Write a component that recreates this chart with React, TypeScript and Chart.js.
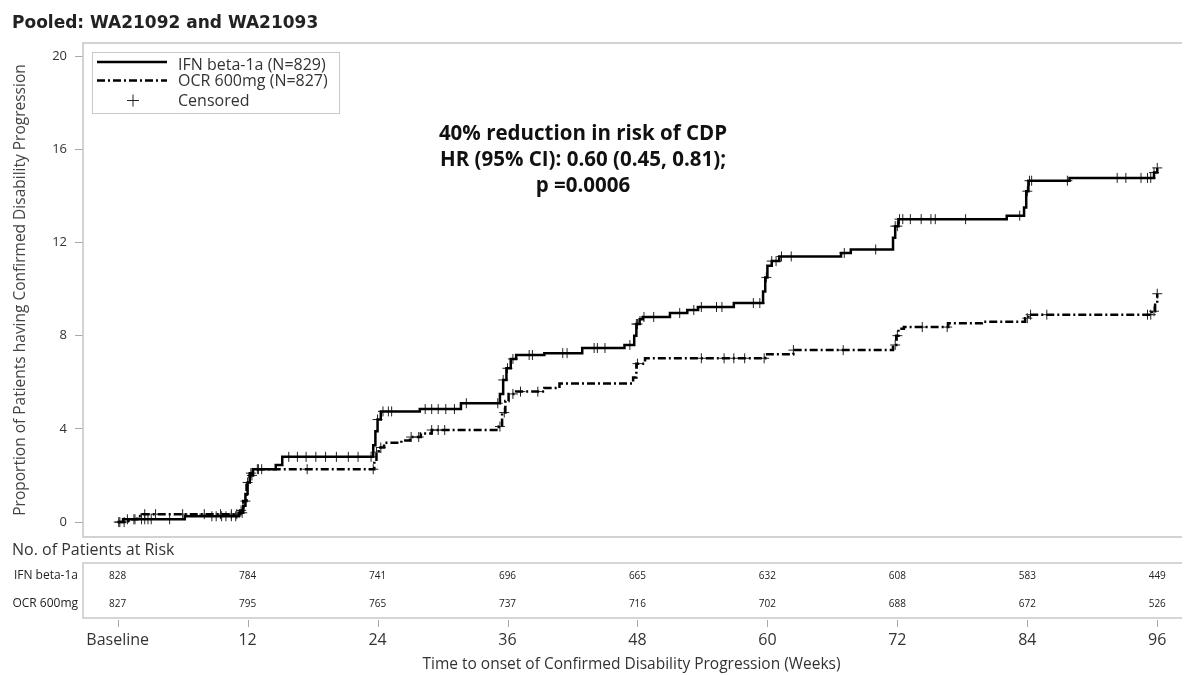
import { useEffect, useRef } from 'react';
import { Chart, registerables } from 'chart.js';

Chart.register(...registerables);

// ---------- Data ----------
const chartTitle = 'Pooled: WA21092 and WA21093';
const yAxisTitle = 'Proportion of Patients having Confirmed Disability Progression';
const xAxisTitle = 'Time to onset of Confirmed Disability Progression (Weeks)';
const annotationLines = ['40% reduction in risk of CDP', 'HR (95% CI): 0.60 (0.45, 0.81);', 'p =0.0006'];
const seriesNames = ['IFN beta-1a (N=829)', 'OCR 600mg (N=827)'];
const censoredLabel = 'Censored';
const riskTitle = 'No. of Patients at Risk';
const riskRowLabels = ['IFN beta-1a', 'OCR 600mg'];

const xTickWeeks = [0, 12, 24, 36, 48, 60, 72, 84, 96];
const xTickLabels = ['Baseline', '12', '24', '36', '48', '60', '72', '84', '96'];
const yTickValues = [0, 4, 8, 12, 16, 20];

const ifnAtRisk = [828, 784, 741, 696, 665, 632, 608, 583, 449];
const ocrAtRisk = [827, 795, 765, 737, 716, 702, 688, 672, 526];

// Step curve (event time in weeks, cumulative % with CDP)
const ifnWeeks = [0, 0.5, 6.2, 11.2, 11.6, 11.8, 12.0, 12.2, 12.5, 14.6, 15.2, 23.6, 23.8, 24.0, 24.3, 27.9, 31.7, 35.3, 35.6, 35.9, 36.3, 36.8, 39.4, 42.9, 46.8, 47.7, 47.9, 48.2, 48.5, 51.0, 52.6, 53.6, 56.9, 59.6, 59.8, 60.0, 60.4, 61.1, 66.8, 67.7, 71.6, 71.8, 72.1, 82.1, 83.7, 83.9, 84.1, 87.9, 95.7, 96.0];
const ifnValues = [0, 0.12, 0.25, 0.4, 0.7, 1.2, 1.7, 2.0, 2.27, 2.45, 2.8, 3.3, 3.9, 4.4, 4.75, 4.85, 5.1, 5.5, 6.1, 6.6, 7.0, 7.17, 7.25, 7.47, 7.6, 8.0, 8.5, 8.7, 8.8, 8.97, 9.1, 9.23, 9.4, 9.9, 10.5, 11.0, 11.2, 11.4, 11.55, 11.7, 12.2, 12.7, 13.0, 13.15, 13.5, 14.2, 14.65, 14.77, 15.0, 15.2];

const ocrWeeks = [0, 1.0, 1.8, 2.3, 11.3, 11.6, 11.9, 12.2, 12.5, 23.7, 23.9, 24.1, 24.6, 26.2, 27.0, 28.0, 29.0, 35.2, 35.5, 35.8, 36.1, 36.8, 39.4, 40.8, 47.6, 47.9, 48.7, 59.8, 62.4, 71.6, 71.9, 72.1, 72.6, 76.7, 79.8, 83.8, 84.1, 95.5, 95.8, 96.0];
const ocrValues = [0, 0.12, 0.25, 0.34, 0.5, 0.9, 1.6, 2.1, 2.27, 2.6, 3.0, 3.2, 3.4, 3.5, 3.65, 3.8, 3.95, 4.1, 4.7, 5.2, 5.5, 5.6, 5.75, 5.95, 6.2, 6.8, 7.03, 7.2, 7.38, 7.6, 8.0, 8.3, 8.37, 8.53, 8.6, 8.75, 8.9, 9.05, 9.4, 9.8];

// Censoring times (weeks)
const ifnCensorWeeks = [0.2, 0.9, 1.6, 2.2, 2.5, 2.8, 3.1, 4.8, 8.7, 9.1, 9.6, 10.0, 10.5, 10.9, 11.5, 12.0, 12.4, 12.9, 13.3, 15.8, 16.6, 17.4, 18.3, 19.2, 20.2, 21.3, 22.2, 23.4, 24.0, 24.5, 25.0, 25.3, 28.4, 29.0, 29.6, 30.3, 31.1, 32.2, 35.1, 35.6, 36.0, 36.5, 38.0, 38.3, 41.1, 41.5, 44.0, 44.3, 45.0, 47.3, 47.9, 48.0, 48.6, 49.5, 51.9, 53.2, 53.9, 55.3, 55.8, 58.7, 59.3, 59.9, 60.4, 60.8, 61.3, 62.2, 67.1, 70.0, 71.8, 72.0, 72.2, 72.5, 73.2, 74.2, 75.1, 75.5, 78.3, 83.3, 84.0, 84.2, 84.4, 87.7, 92.3, 93.1, 94.5, 95.1, 95.4, 95.7, 96.0];
const ocrCensorWeeks = [0.1, 0.6, 1.5, 2.5, 3.5, 6.0, 8.0, 9.5, 10.5, 11.0, 11.4, 11.8, 12.3, 13.0, 17.5, 23.6, 23.9, 24.3, 27.1, 27.8, 29.0, 29.6, 30.2, 35.3, 35.7, 36.5, 37.2, 38.8, 48.0, 53.9, 56.0, 56.9, 57.9, 59.7, 62.4, 67.0, 71.8, 72.0, 74.3, 76.6, 84.0, 84.3, 85.8, 95.1, 95.4, 95.7, 96.0];

// ---------- Helpers ----------
const SANS = '"Open Sans", "Noto Sans", "DejaVu Sans", sans-serif';
const OCR_DASH = [8, 3, 2, 3];

function stepValueAt(weeks: number[], values: number[], t: number): number {
  let v = values[0];
  for (let i = 0; i < weeks.length; i++) {
    if (weeks[i] <= t + 1e-9) v = values[i];
    else break;
  }
  return v;
}

const toPoints = (weeks: number[], values: number[]) => weeks.map((w, i) => ({ x: w, y: values[i] }));
const censorPoints = (cw: number[], weeks: number[], values: number[]) =>
  cw.map((w) => ({ x: w, y: stepValueAt(weeks, values, w) }));

const decorPlugin = {
  id: 'kmDecor',
  beforeDatasetsDraw(chart: any) {
    const { ctx, chartArea } = chart;
    const { left, right, top, bottom } = chartArea;
    ctx.save();
    ctx.strokeStyle = '#c4c4c4';
    ctx.lineWidth = 1.5;
    ctx.beginPath();
    ctx.moveTo(right + 2, top);
    ctx.lineTo(left, top);
    ctx.lineTo(left, bottom);
    ctx.lineTo(right + 2, bottom);
    ctx.stroke();
    ctx.restore();
  },
  afterDraw(chart: any) {
    const { ctx, chartArea } = chart;
    const xScale = chart.scales.x;
    const { left, right } = chartArea;
    ctx.save();

    // Title
    ctx.fillStyle = '#222';
    ctx.font = 'bold 17px "DejaVu Sans", sans-serif';
    ctx.textAlign = 'left';
    ctx.textBaseline = 'alphabetic';
    ctx.fillText(chartTitle, 12, 28);

    // Legend box
    ctx.strokeStyle = '#c8c8c8';
    ctx.lineWidth = 1;
    ctx.strokeRect(92.5, 52.5, 247, 61);
    ctx.strokeStyle = '#000';
    ctx.lineWidth = 2.5;
    ctx.beginPath();
    ctx.moveTo(97, 62);
    ctx.lineTo(167, 62);
    ctx.stroke();
    ctx.setLineDash(OCR_DASH);
    ctx.beginPath();
    ctx.moveTo(97, 80.5);
    ctx.lineTo(167, 80.5);
    ctx.stroke();
    ctx.setLineDash([]);
    ctx.lineWidth = 1;
    ctx.strokeStyle = '#222';
    ctx.beginPath();
    ctx.moveTo(127, 100.5);
    ctx.lineTo(139, 100.5);
    ctx.moveTo(133, 94.5);
    ctx.lineTo(133, 106.5);
    ctx.stroke();
    ctx.fillStyle = '#333';
    ctx.font = '16px ' + SANS;
    ctx.textBaseline = 'alphabetic';
    ctx.fillText(seriesNames[0], 178, 70);
    ctx.fillText(seriesNames[1], 178, 86);
    ctx.fillText(censoredLabel, 178, 106);

    // Annotation
    ctx.fillStyle = '#111';
    ctx.font = 'bold 20.5px ' + SANS;
    ctx.textAlign = 'center';
    const annBase = [140, 166, 192];
    annotationLines.forEach((t, i) => ctx.fillText(t, 583, annBase[i]));

    // At-risk header
    ctx.fillStyle = '#333';
    ctx.font = '16px ' + SANS;
    ctx.textAlign = 'left';
    ctx.fillText(riskTitle, 12, 555);

    // At-risk table box
    ctx.strokeStyle = '#c8c8c8';
    ctx.lineWidth = 1.5;
    ctx.beginPath();
    ctx.moveTo(right + 2, 563);
    ctx.lineTo(left, 563);
    ctx.lineTo(left, 618);
    ctx.lineTo(right + 2, 618);
    ctx.stroke();

    // Row labels
    ctx.fillStyle = '#222';
    ctx.textBaseline = 'middle';
    ctx.font = '12px ' + SANS;
    ctx.textAlign = 'right';
    ctx.fillText(riskRowLabels[0], 78, 576);
    ctx.fillText(riskRowLabels[1], 78, 604);

    // Numbers
    ctx.font = '10px ' + SANS;
    ctx.textAlign = 'center';
    xTickWeeks.forEach((w, i) => {
      const px = xScale.getPixelForValue(w);
      ctx.fillText(String(ifnAtRisk[i]), px, 576);
      ctx.fillText(String(ocrAtRisk[i]), px, 604);
    });

    // x tick marks below the table
    ctx.strokeStyle = '#aaa';
    ctx.lineWidth = 1;
    ctx.beginPath();
    xTickWeeks.forEach((w) => {
      const px = Math.round(xScale.getPixelForValue(w)) + 0.5;
      ctx.moveTo(px, 620);
      ctx.lineTo(px, 627);
    });
    ctx.stroke();

    // x-axis title, centred on the axis
    ctx.fillStyle = '#333';
    ctx.font = '15.5px ' + SANS;
    ctx.textAlign = 'center';
    ctx.textBaseline = 'middle';
    ctx.fillText(xAxisTitle, (left + right) / 2, 665);
    ctx.restore();
  },
};

export default function App() {
  const ref = useRef<HTMLCanvasElement>(null);
  useEffect(() => {
    const canvas = ref.current;
    if (!canvas) return;
    const chart = new Chart(canvas, {
      type: 'line',
      data: {
        datasets: [
          {
            label: seriesNames[0],
            data: toPoints(ifnWeeks, ifnValues),
            borderColor: '#000',
            borderWidth: 2.5,
            stepped: true,
            pointRadius: 0,
            fill: false,
          },
          {
            label: seriesNames[1],
            data: toPoints(ocrWeeks, ocrValues),
            borderColor: '#000',
            borderWidth: 2.5,
            borderDash: OCR_DASH,
            stepped: true,
            pointRadius: 0,
            fill: false,
          },
          {
            label: 'IFN censored',
            data: censorPoints(ifnCensorWeeks, ifnWeeks, ifnValues),
            showLine: false,
            pointStyle: 'cross',
            pointRadius: 5,
            pointBorderWidth: 1,
            pointBorderColor: '#222',
            pointBackgroundColor: '#222',
          },
          {
            label: 'OCR censored',
            data: censorPoints(ocrCensorWeeks, ocrWeeks, ocrValues),
            showLine: false,
            pointStyle: 'cross',
            pointRadius: 5,
            pointBorderWidth: 1,
            pointBorderColor: '#222',
            pointBackgroundColor: '#222',
          },
        ],
      },
      options: {
        responsive: false,
        animation: false,
        devicePixelRatio: 1,
        layout: { padding: { top: 43, left: 0, right: 0, bottom: 0 } },
        plugins: { legend: { display: false }, tooltip: { enabled: false }, title: { display: false } },
        scales: {
          x: {
            type: 'linear',
            min: -3.2,
            max: 98.1,
            afterBuildTicks: (s: any) => {
              s.ticks = xTickWeeks.map((v) => ({ value: v }));
            },
            afterFit: (s: any) => {
              s.height = 138;
              s.paddingLeft = 0;
              s.paddingRight = 0;
            },
            ticks: {
              autoSkip: false,
              maxRotation: 0,
              padding: 94,
              color: '#333',
              font: { family: SANS, size: 16 },
              callback: (_v: any, i: number) => xTickLabels[i],
            },
            grid: { display: false, drawTicks: false },
            border: { display: false },
            title: { display: false },
          },
          y: {
            type: 'linear',
            min: -0.64,
            max: 20.56,
            afterBuildTicks: (s: any) => {
              s.ticks = yTickValues.map((v) => ({ value: v }));
            },
            afterFit: (s: any) => {
              s.width = 83;
            },
            ticks: {
              padding: 8,
              color: '#333',
              font: { family: SANS, size: 13 },
            },
            grid: { drawOnChartArea: false, drawTicks: true, tickLength: 8, color: '#aaa' },
            border: { display: false },
            title: {
              display: true,
              text: yAxisTitle,
              color: '#444',
              font: { family: SANS, size: 15.5 },
              padding: { top: 11, bottom: 0 },
            },
          },
        },
      },
      plugins: [decorPlugin],
    } as any);
    return () => chart.destroy();
  }, []);
  return (
    <div style={{ position: 'fixed', left: 0, top: 0, width: 1186, height: 675, background: '#fff' }}>
      <canvas ref={ref} width={1186} height={675} style={{ display: 'block' }} />
    </div>
  );
}
